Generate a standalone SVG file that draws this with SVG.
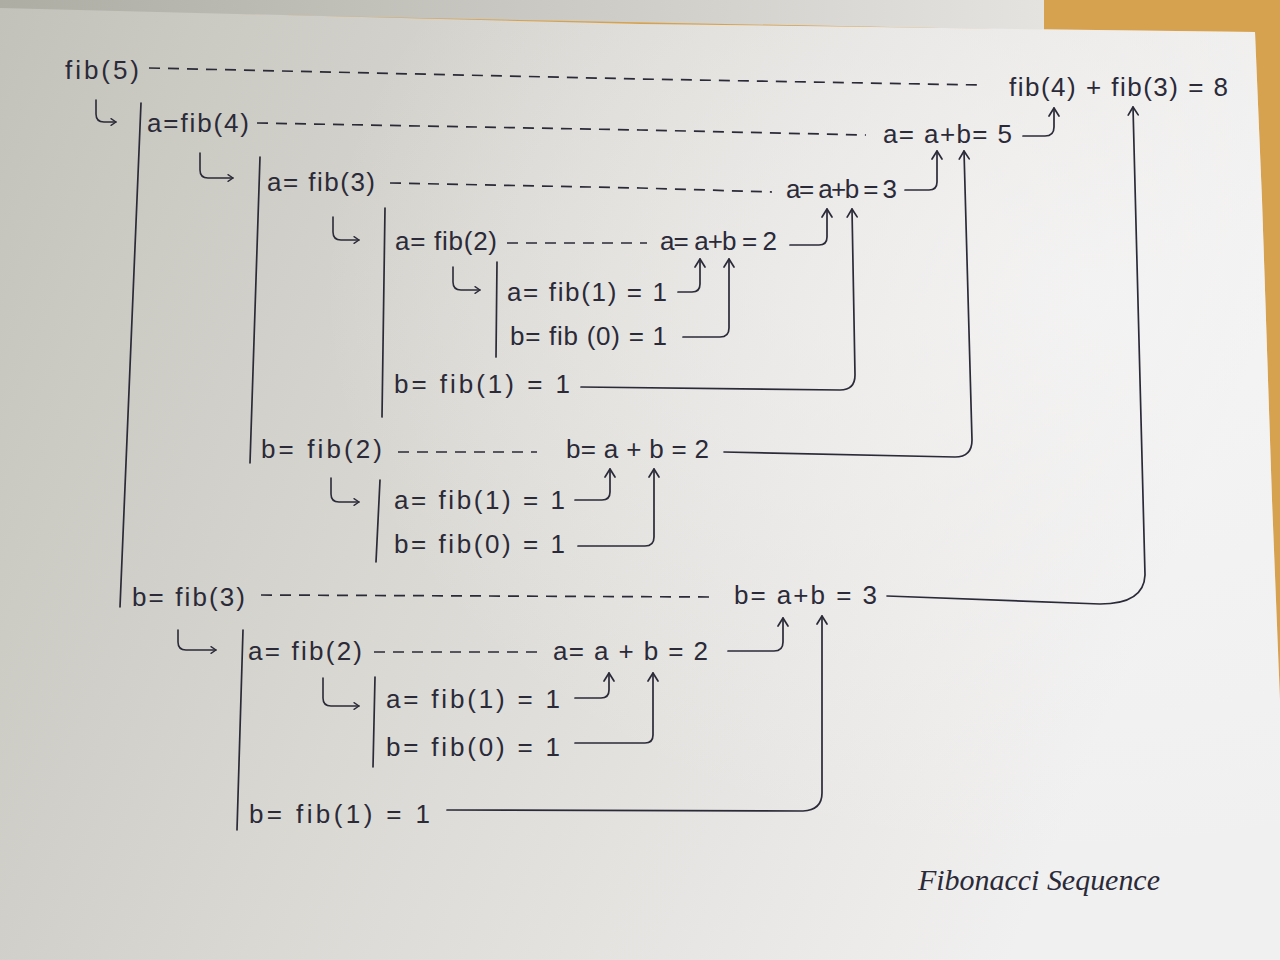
<svg xmlns="http://www.w3.org/2000/svg" width="1280" height="960" viewBox="0 0 1280 960">
<defs>
<linearGradient id="paper" x1="0" y1="0" x2="1" y2="0.3">
<stop offset="0" stop-color="#c3c2ba"/>
<stop offset="0.45" stop-color="#d9d8d3"/>
<stop offset="1" stop-color="#f1f0f0"/>
</linearGradient>
<linearGradient id="sheet" x1="0" y1="0" x2="1" y2="0">
<stop offset="0" stop-color="#aeada4"/>
<stop offset="1" stop-color="#e4e3e0"/>
</linearGradient>
<radialGradient id="glow" cx="0.85" cy="0.3" r="0.6">
<stop offset="0" stop-color="#f6f5f5" stop-opacity="0.8"/>
<stop offset="1" stop-color="#f6f5f5" stop-opacity="0"/>
</radialGradient>
<marker id="ah" viewBox="-10 -7 12 14" refX="0" refY="0" markerWidth="12" markerHeight="14" markerUnits="userSpaceOnUse" orient="auto">
<path d="M-8,-5 L0,0 L-8,5" fill="none" stroke="#2b2a38" stroke-width="1.7" stroke-linecap="round" stroke-linejoin="round"/>
</marker>
<marker id="ahs" viewBox="-10 -7 12 14" refX="0" refY="0" markerWidth="10" markerHeight="12" markerUnits="userSpaceOnUse" orient="auto">
<path d="M-6,-4 L0,0 L-6,4" fill="none" stroke="#2b2a38" stroke-width="1.6" stroke-linecap="round" stroke-linejoin="round"/>
</marker>
</defs>
<style>
.t{font-family:"Liberation Sans","DejaVu Sans",sans-serif;font-size:26px;fill:#2b2a38;}
.sig{font-family:"Liberation Serif","DejaVu Serif",serif;font-style:italic;font-size:30px;fill:#2b2a38;}
.ln{fill:none;stroke:#2b2a38;stroke-width:1.7;stroke-linecap:round;stroke-linejoin:round;}
.ds{fill:none;stroke:#2b2a38;stroke-width:1.7;stroke-dasharray:11 8;}
.ar{fill:none;stroke:#2b2a38;stroke-width:1.7;stroke-linecap:round;stroke-linejoin:round;marker-end:url(#ah);}
.hk{fill:none;stroke:#2b2a38;stroke-width:1.6;stroke-linecap:round;stroke-linejoin:round;marker-end:url(#ahs);}
</style>
<g id="background">
<rect x="0" y="0" width="1280" height="960" fill="#d7a24f"/>
<polygon points="0,0 1044,0 1044,30 0,10" fill="url(#sheet)"/>
<polygon points="0,8 640,24 1255,32 1262,200 1272,500 1280,700 1280,960 0,960" fill="url(#paper)"/>
<polygon points="0,8 640,24 1255,32 1262,200 1272,500 1280,700 1280,960 0,960" fill="url(#glow)"/>
</g>
<g id="connectors">
<path class="ds" d="M149,68 L640,79 L979,85"/>
<path class="ds" d="M257,123 L640,130 L866,135"/>
<path class="ds" d="M390,183 L640,188 L772,192"/>
<path class="ds" d="M507,243 L647,243"/>
<path class="ds" d="M398,452 L537,452"/>
<path class="ds" d="M261,595 L713,597"/>
<path class="ds" d="M374,652 L539,652"/>
<path class="ln" d="M141,103 L120,607"/>
<path class="ln" d="M260,157 L250,463"/>
<path class="ln" d="M385,208 L382,417"/>
<path class="ln" d="M497,262 L496,357"/>
<path class="ln" d="M380,480 L376,562"/>
<path class="ln" d="M243,630 L237,830"/>
<path class="ln" d="M375,677 L373,767"/>
<path class="hk" d="M96,100 V114 Q96,122 104,122 H116"/>
<path class="hk" d="M200,153 V170 Q200,178 208,178 H233"/>
<path class="hk" d="M333,217 V232 Q333,240 341,240 H359"/>
<path class="hk" d="M453,267 V282 Q453,290 461,290 H480"/>
<path class="hk" d="M331,478 V494 Q331,502 339,502 H359"/>
<path class="hk" d="M178,630 V642 Q178,650 186,650 H216"/>
<path class="hk" d="M323,678 V698 Q323,706 331,706 H359"/>
<path class="ar" d="M1023,136 H1045 Q1054,136 1054,127 V108"/>
<path class="ar" d="M887,596 L1100,604 Q1144,604 1145,575 L1133,107"/>
<path class="ar" d="M905,190 H929 Q937,190 937,182 V151"/>
<path class="ar" d="M724,452 L955,457 Q972,457 972,440 L964,151"/>
<path class="ar" d="M790,245 H819 Q827,245 827,237 V209"/>
<path class="ar" d="M581,387 L840,390 Q855,390 855,375 L852,209"/>
<path class="ar" d="M678,292 H692 Q700,292 700,284 V259"/>
<path class="ar" d="M683,337 H720 Q729,337 729,328 V259"/>
<path class="ar" d="M575,500 H602 Q610,500 610,492 V469"/>
<path class="ar" d="M578,546 H645 Q654,546 654,537 V469"/>
<path class="ar" d="M728,651 H774 Q783,651 783,642 V618"/>
<path class="ar" d="M447,810 L803,811 Q822,810 822,793 V616"/>
<path class="ar" d="M575,698 H601 Q609,698 609,690 V673"/>
<path class="ar" d="M575,743 H645 Q653,743 653,735 V673"/>
</g>
<g id="n-fib5"><text class="t" x="65" y="79" textLength="74">fib(5)</text></g>
<g id="n-fib5-result"><text class="t" x="1009" y="96" textLength="219">fib(4) + fib(3) = 8</text></g>
<g id="n-a-fib4"><text class="t" x="147" y="132" textLength="102">a=fib(4)</text></g>
<g id="n-a-fib4-result"><text class="t" x="883" y="143" textLength="129">a= a+b= 5</text></g>
<g id="n-a-fib3"><text class="t" x="267" y="191" textLength="108">a= fib(3)</text></g>
<g id="n-a-fib3-result"><text class="t" x="786" y="198" textLength="111">a= a+b = 3</text></g>
<g id="n-a-fib2"><text class="t" x="395" y="250" textLength="102">a= fib(2)</text></g>
<g id="n-a-fib2-result"><text class="t" x="660" y="250" textLength="117">a= a+b = 2</text></g>
<g id="n-a-fib1-1"><text class="t" x="507" y="301" textLength="160">a= fib(1) = 1</text></g>
<g id="n-b-fib0-1"><text class="t" x="510" y="345" textLength="157">b= fib (0) = 1</text></g>
<g id="n-b-fib1-1"><text class="t" x="394" y="393" textLength="176">b= fib(1) = 1</text></g>
<g id="n-b-fib2"><text class="t" x="261" y="458" textLength="121">b= fib(2)</text></g>
<g id="n-b-fib2-result"><text class="t" x="566" y="458" textLength="143">b= a + b = 2</text></g>
<g id="n-a-fib1-2"><text class="t" x="394" y="509" textLength="171">a= fib(1) = 1</text></g>
<g id="n-b-fib0-2"><text class="t" x="394" y="553" textLength="171">b= fib(0) = 1</text></g>
<g id="n-b-fib3"><text class="t" x="132" y="606" textLength="113">b= fib(3)</text></g>
<g id="n-b-fib3-result"><text class="t" x="734" y="604" textLength="143">b= a+b = 3</text></g>
<g id="n-a-fib2-b"><text class="t" x="248" y="660" textLength="114">a= fib(2)</text></g>
<g id="n-a-fib2-b-result"><text class="t" x="553" y="660" textLength="155">a= a + b = 2</text></g>
<g id="n-a-fib1-3"><text class="t" x="386" y="708" textLength="174">a= fib(1) = 1</text></g>
<g id="n-b-fib0-3"><text class="t" x="386" y="756" textLength="174">b= fib(0) = 1</text></g>
<g id="n-b-fib1-2"><text class="t" x="249" y="823" textLength="181">b= fib(1) = 1</text></g>
<g id="caption"><text class="sig" x="918" y="890" textLength="242">Fibonacci Sequence</text></g>
</svg>
